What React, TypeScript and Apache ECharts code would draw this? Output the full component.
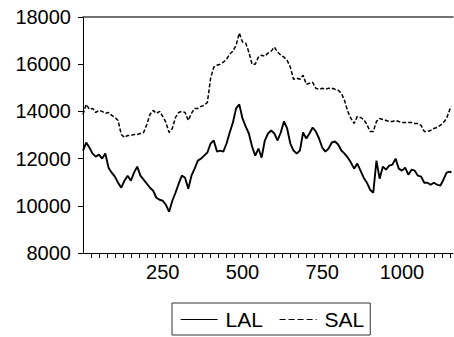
import React, { useEffect, useRef } from "react";
import * as echarts from "echarts";

const idx: number[] = Array.from({ length: 116 }, (_, k) => k * 10).concat([1155]);

const lal: number[] = [
  12341, 12681, 12468, 12213, 12085, 12170, 12000, 12213, 11617, 11405,
  11234, 10979, 10766, 11064, 11277, 11064, 11405, 11660, 11277, 11106,
  10936, 10766, 10638, 10341, 10255, 10213, 10043, 9745, 10213, 10553,
  10936, 11277, 11191, 10723, 11277, 11575, 11915, 12000, 12128, 12256,
  12639, 12766, 12298, 12341, 12298, 12639, 13106, 13532, 14128, 14298,
  13702, 13362, 13064, 12511, 12128, 12426, 12043, 12766, 13064, 13192,
  13064, 12766, 13106, 13574, 13277, 12639, 12341, 12213, 12341, 13106,
  12851, 13064, 13319, 13149, 12851, 12468, 12298, 12426, 12681, 12724,
  12596, 12341, 12213, 12043, 11830, 11575, 11787, 11490, 11191, 10979,
  10681, 10553, 11915, 11149, 11660, 11532, 11702, 11745, 12000, 11575,
  11490, 11617, 11319, 11532, 11490, 11277, 11234, 10979, 10979, 10894,
  10979, 10894, 10851, 11106, 11405, 11447, 11405,
];

const sal: number[] = [
  13872, 14298, 14085, 14128, 13957, 14043, 14000, 13915, 13957, 13830,
  13745, 13617, 13021, 12894, 12979, 12979, 13021, 13021, 13064, 13106,
  13447, 13872, 14043, 13915, 14000, 13787, 13532, 13106, 13277, 13745,
  13957, 14000, 13957, 13617, 13915, 14128, 14128, 14213, 14255, 14383,
  15404, 15872, 15957, 16000, 16085, 16213, 16426, 16553, 16809, 17319,
  16936, 16894, 16511, 16000, 16000, 16298, 16383, 16340, 16468, 16553,
  16723, 16511, 16383, 16298, 16170, 15872, 15362, 15404, 15362, 15532,
  15149, 15191, 15234, 14979, 14936, 14979, 14936, 14979, 14979, 14936,
  14894, 14766, 14468, 14000, 13702, 13489, 13787, 13745, 13660, 13447,
  13149, 13149, 13574, 13702, 13660, 13617, 13574, 13574, 13617, 13574,
  13532, 13532, 13532, 13532, 13489, 13489, 13404, 13149, 13149, 13192,
  13277, 13319, 13404, 13532, 13702, 14085, 14213,
];

const xTicks: number[] = [250, 500, 750, 1000];
const yMin = 8000;
const yMax = 18000;
const yStep = 2000;
const xMin = 0;
const xMax = 1160;
const xMinorStep = 25;

export default function App() {
  const ref = useRef<HTMLDivElement>(null);
  useEffect(() => {
    if (!ref.current) return;
    const chart = echarts.init(ref.current, null, { renderer: "svg" });
    const font = "'Liberation Sans', Arial, sans-serif";
    chart.setOption({
      animation: false,
      backgroundColor: "#ffffff",
      grid: { left: 83, top: 17, right: 1, bottom: 84, containLabel: false },
      legend: {
        data: [
          { name: "LAL", lineStyle: { type: "solid", width: 1.2 } },
          { name: "SAL", lineStyle: { type: [6, 3], width: 1.2 } },
        ],
        left: 172,
        top: 303,
        orient: "horizontal",
        itemWidth: 37,
        itemHeight: 10,
        itemGap: 16,
        padding: [6, 6, 5, 8],
        borderColor: "#333333",
        borderWidth: 1,
        itemStyle: { opacity: 0, borderWidth: 0 },
        textStyle: { fontFamily: font, fontSize: 21, color: "#000", padding: [0, 0, 0, 3] },
      },
      xAxis: [
        {
          type: "value",
          min: xMin,
          max: xMax,
          interval: xMinorStep,
          axisLine: { show: true, lineStyle: { color: "#000", width: 1 } },
          axisTick: { show: true, inside: false, length: 5, lineStyle: { color: "#000" } },
          splitLine: { show: false },
          axisLabel: {
            margin: 9,
            fontFamily: font,
            fontSize: 20,
            color: "#000",
            showMinLabel: false,
            showMaxLabel: false,
            formatter: (v: number) => (xTicks.indexOf(v) >= 0 ? String(v) : ""),
          },
        },
        {
          type: "value",
          position: "top",
          min: xMin,
          max: xMax,
          axisLine: { show: true, onZero: false, lineStyle: { color: "#444", width: 1.5 } },
          axisTick: { show: false },
          axisLabel: { show: false },
          splitLine: { show: false },
        },
      ],
      yAxis: {
        type: "value",
        min: yMin,
        max: yMax,
        interval: yStep,
        axisLine: { show: true, lineStyle: { color: "#000", width: 1 } },
        axisTick: { show: true, inside: false, length: 5, lineStyle: { color: "#000" } },
        splitLine: { show: false },
        axisLabel: {
          margin: 12,
          fontFamily: font,
          fontSize: 20,
          color: "#000",
          formatter: (v: number) => String(v),
        },
      },
      series: [
        {
          name: "LAL",
          type: "line",
          symbol: "none",
          xAxisIndex: 0,
          data: idx.map((x, i) => [x, lal[i]]),
          lineStyle: { color: "#000", width: 1.9, type: "solid" },
          itemStyle: { color: "#000" },
        },
        {
          name: "SAL",
          type: "line",
          symbol: "none",
          xAxisIndex: 0,
          data: idx.map((x, i) => [x, sal[i]]),
          lineStyle: { color: "#000", width: 1.5, type: [4, 2] },
          itemStyle: { color: "#000" },
        },
      ],
    });
    return () => chart.dispose();
  }, []);
  return <div ref={ref} style={{ width: 454, height: 337, position: "absolute", left: 0, top: 0 }} />;
}
